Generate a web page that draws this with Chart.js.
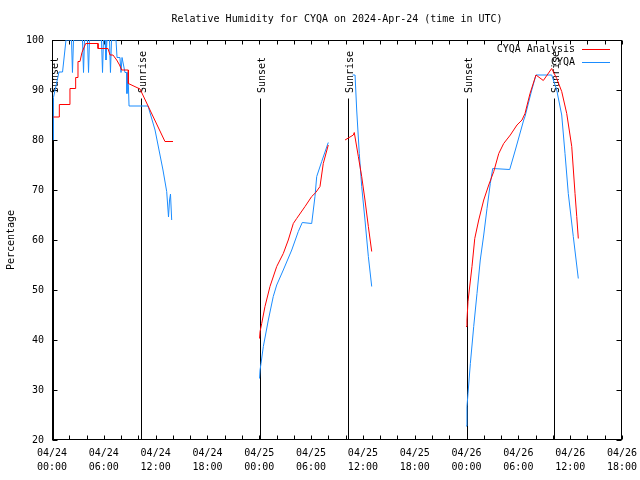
<!DOCTYPE html>
<html>
<head>
<meta charset="utf-8">
<title>Relative Humidity for CYQA</title>
<script src="https://cdn.jsdelivr.net/npm/chart.js@4"></script>
<style>
  html, body { margin: 0; padding: 0; background: #fff; }
  #wrap { width: 640px; height: 480px; }
</style>
</head>
<body>
<div id="wrap"><canvas id="rhChart" width="640" height="480"></canvas></div>
<script>
// Times are hours since 04/24 00:00 UTC; a null value breaks the line (no data)
const analysisHours = [0.15, 0.85, 0.85, 2.08, 2.08, 2.74, 2.74, 3.01, 3.01, 3.24, 3.47, 3.90, 5.33, 5.33, 6.48, 6.72, 7.06, 7.49, 7.82, 8.07, 8.84, 8.84, 10.19, 13.08, 14.01,
  19,
  24.03, 24.09, 24.28, 24.66, 25.24, 26.02, 26.78, 27.36, 27.94, 28.33, 29.30, 30.07, 30.54, 31.03, 31.41, 31.99,
  33,
  33.93, 34.89, 35.00, 35.47, 35.86, 36.24, 36.63, 37.02,
  42,
  47.94, 48.05, 48.17, 48.32, 48.63, 48.95, 49.41, 49.99, 50.57, 51.15, 51.73, 52.30, 53.07, 53.84, 54.42, 54.77, 55.35, 56.04, 56.89, 57.86, 58.44, 59.02, 59.60, 60.18, 60.56, 60.76, 60.94];
const analysisRH = [84.6, 84.6, 87.1, 87.1, 90.3, 90.3, 92.5, 92.5, 95.7, 95.7, 97.5, 99.3, 99.3, 98.3, 98.3, 97, 97, 96, 95, 94, 94, 91.3, 90.2, 79.7, 79.7,
  null,
  40.3, 41.7, 43.3, 46.7, 50.7, 54.7, 57.3, 60, 63.3, 64.3, 66.7, 68.7, 69.5, 70.7, 75.3, 79,
  null,
  80, 81, 81.5, 76.7, 72.7, 68, 62.7, 57.7,
  null,
  42.7, 44, 47.7, 50, 54.7, 60.3, 64, 68, 71, 73.7, 77.3, 79.3, 81, 83, 84, 85.3, 89.3, 93, 91.9, 94.3, 92.3, 89.7, 85.3, 78.7, 69.3, 64.7, 60.3];

const obsHours = [0.15, 0.17, 0.81, 1.22, 1.62, 2.26, 2.37, 2.49, 3.53, 3.65, 3.76, 4.11, 4.23, 4.34, 5.73, 5.85, 5.96, 6.14, 6.25, 6.37, 6.66, 6.77, 6.89, 7.41, 7.53, 7.87, 7.99, 8.11, 8.45, 8.63, 8.68, 8.80, 8.92, 11.12, 11.93, 12.85, 13.28, 13.49, 13.61, 13.72, 13.86,
  19,
  24.03, 24.09, 24.20, 24.47, 25.05, 25.62, 26.02, 26.78, 27.76, 28.52, 28.98, 30.07, 30.45, 30.65, 31.23, 31.99,
  33,
  34.80, 35.09, 35.28, 35.58, 35.86, 36.24, 36.63, 37.02,
  42,
  47.94, 48.05, 48.17, 48.44, 48.83, 49.21, 49.59, 49.99, 50.37, 50.75, 51.03, 53.00, 53.65, 54.62, 54.77, 55.55, 56.04, 57.86, 58.44, 59.02, 59.40, 59.78, 60.36, 60.94];
const obsRH = [80, 88.5, 93.6, 93.6, 100, 100, 93.5, 100, 100, 93.5, 100, 100, 93.5, 100, 100, 93.5, 100, 100, 96, 100, 100, 93.5, 100, 100, 96.5, 96.5, 93.5, 96.5, 93.5, 93.5, 89.3, 93.5, 86.8, 86.8, 82, 74, 69.7, 64.6, 68, 69.2, 64,
  null,
  32.3, 34, 35.3, 38.7, 44, 48.7, 51, 54, 58, 61.7, 63.5, 63.3, 68.7, 72.7, 75.7, 79.5,
  null,
  93, 93, 86, 77.3, 70.7, 64, 56.7, 50.7,
  null,
  22.8, 26.7, 29.3, 35.3, 42.7, 49.3, 56, 61, 66.3, 71.3, 74.3, 74.1, 78, 84, 84.7, 90, 93, 93, 90, 85, 77.3, 69.3, 60.7, 52.3];

const sunHours = [0.15, 10.31, 24.09, 34.27, 48.05, 58.13];
const sunLabels = ['Sunset', 'Sunrise', 'Sunset', 'Sunrise', 'Sunset', 'Sunrise'];

// one entry per labelled tick, every 6 hours
const tickDates = ['04/24', '04/24', '04/24', '04/24', '04/25', '04/25', '04/25', '04/25', '04/26', '04/26', '04/26', '04/26'];
const tickTimes = ['00:00', '06:00', '12:00', '18:00', '00:00', '06:00', '12:00', '18:00', '00:00', '06:00', '12:00', '18:00'];

const mono = "'DejaVu Sans Mono', monospace";
const RED = '#ff0000';
const BLUE = '#1a8cff';

const toPoints = (hours, values) => hours.map((h, i) => ({ x: h, y: values[i] }));

// gnuplot look: frame, inward ticks, sun markers, key and title
const gnuplotFrame = {
    id: 'gnuplotFrame',
    beforeDatasetsDraw(chart) {
        const { ctx, chartArea: a, scales: { x, y } } = chart;
        ctx.save();
        ctx.strokeStyle = '#000';
        ctx.lineWidth = 1;

        const L = Math.round(a.left) + 0.5, R = Math.round(a.right) - 0.5;
        const T = Math.round(a.top) + 0.5, B = Math.round(a.bottom) - 0.5;
        ctx.beginPath();
        x.ticks.forEach(t => {
            const px = Math.round(x.getPixelForValue(t.value)) + 0.5;
            ctx.moveTo(px, B); ctx.lineTo(px, B - 4);
            ctx.moveTo(px, T); ctx.lineTo(px, T + 4);
        });
        y.ticks.forEach(t => {
            const py = Math.round(y.getPixelForValue(t.value)) + 0.5;
            ctx.moveTo(L, py); ctx.lineTo(L + 5, py);
            ctx.moveTo(R, py); ctx.lineTo(R - 5, py);
        });
        ctx.stroke();
        ctx.strokeRect(L, T, R - L, B - T);

        // sunrise / sunset markers
        ctx.font = '10px ' + mono;
        ctx.fillStyle = '#000';
        sunHours.forEach((h, i) => {
            const px = Math.round(x.getPixelForValue(h)) + 0.5;
            ctx.beginPath();
            ctx.moveTo(px, B);
            ctx.lineTo(px, y.getPixelForValue(88.3));
            ctx.stroke();
            ctx.save();
            ctx.translate(px + 1.5, y.getPixelForValue(89.4));
            ctx.rotate(-Math.PI / 2);
            ctx.textAlign = 'left';
            ctx.textBaseline = 'middle';
            ctx.fillText(sunLabels[i], 0, 0);
            ctx.restore();
        });

        // key
        ctx.textAlign = 'right';
        ctx.textBaseline = 'middle';
        [['CYQA Analysis', RED, 49.5], ['CYQA', BLUE, 62.5]].forEach(([label, color, ky]) => {
            ctx.fillStyle = '#000';
            ctx.fillText(label, 575, ky);
            ctx.strokeStyle = color;
            ctx.beginPath();
            ctx.moveTo(582, ky);
            ctx.lineTo(610, ky);
            ctx.stroke();
        });

        // title, centred on the plot like gnuplot
        ctx.fillStyle = '#000';
        ctx.textAlign = 'center';
        ctx.fillText('Relative Humidity for CYQA on 2024-Apr-24 (time in UTC)', (a.left + a.right) / 2, 19);
        ctx.restore();
    }
};

const ctx = document.getElementById('rhChart').getContext('2d');
new Chart(ctx, {
    type: 'line',
    data: {
        datasets: [{
            label: 'CYQA Analysis',
            data: toPoints(analysisHours, analysisRH),
            borderColor: RED,
            borderWidth: 1
        }, {
            label: 'CYQA',
            data: toPoints(obsHours, obsRH),
            borderColor: BLUE,
            borderWidth: 1
        }]
    },
    options: {
        responsive: false,
        animation: false,
        devicePixelRatio: 1,
        spanGaps: false,
        elements: {
            point: { radius: 0 },
            line: { tension: 0 }
        },
        layout: { padding: { top: 40, right: 18, left: 0, bottom: 0 } },
        plugins: {
            legend: { display: false },
            title: { display: false },
            tooltip: { enabled: false }
        },
        scales: {
            x: {
                type: 'linear',
                min: 0,
                max: 66,
                grid: { display: false, drawTicks: false },
                border: { display: false },
                afterFit: scale => {
                    scale.height = 40;
                    scale.paddingLeft = 0;
                    scale.paddingRight = 0;
                },
                ticks: {
                    stepSize: 2,
                    autoSkip: false,
                    maxRotation: 0,
                    padding: 6,
                    color: '#000',
                    font: { family: mono, size: 10, lineHeight: '14px' },
                    callback: v => (v % 6 === 0 ? [tickDates[v / 6], tickTimes[v / 6]] : '')
                }
            },
            y: {
                min: 20,
                max: 100,
                grid: { display: false, drawTicks: false },
                border: { display: false },
                afterFit: scale => { scale.width = 52; },
                title: {
                    display: true,
                    text: 'Percentage',
                    color: '#000',
                    padding: { top: 5, bottom: 0 },
                    font: { family: mono, size: 10 }
                },
                ticks: {
                    stepSize: 10,
                    padding: 8,
                    color: '#000',
                    font: { family: mono, size: 10 }
                }
            }
        }
    },
    plugins: [gnuplotFrame]
});
</script>
</body>
</html>
